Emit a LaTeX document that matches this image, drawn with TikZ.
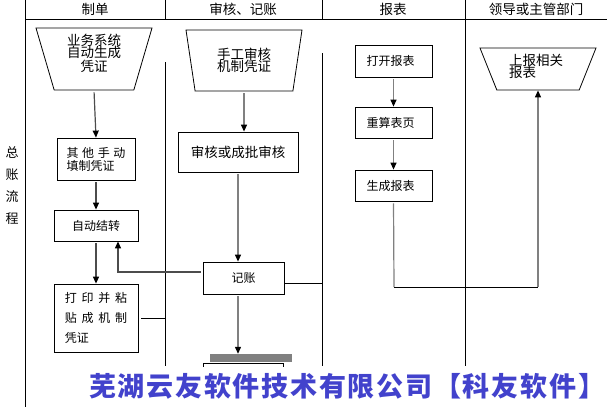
\documentclass[tikz,border=0pt]{standalone}
\usepackage{fontspec}
\setmainfont{Noto Sans CJK SC}
\usetikzlibrary{positioning,shapes.geometric,arrows.meta}
\definecolor{kyblue}{RGB}{66,66,204}

\begin{document}
\begin{tikzpicture}[x=1pt, y=-1pt,
						box/.style={rectangle, draw=black, line width=0.8pt, inner sep=2pt, font=\fontsize{12}{13}\selectfont},
						trap/.style={trapezium, draw=black, line width=0.8pt, shape border rotate=180, trapezium stretches body, inner sep=0pt, font=\fontsize{13.5}{12.5}\selectfont},
						head/.style={inner sep=0pt, font=\fontsize{13.5}{14}\selectfont},
						flow/.style={draw=gray, line width=1.2pt, -{Triangle[black, length=7pt, width=6pt]}},
						lane/.style={draw=black, line width=0.8pt}
					]
					\useasboundingbox (0,0) rectangle (607,407);
					\node[head] (h1) at (95,9) {制单};
					\node[head] (h2) at (243,9) {审核、记账};
					\node[head] (h3) at (393,9) {报表};
					\node[head] (h4) at (536,9) {领导或主管部门};
					\node[head, align=center, font=\fontsize{13}{22}\selectfont] (row) at (12,186) {总\\账\\流\\程};
					\coordinate (l0a) at (25,0);
					\coordinate (l0b) at (25,407);
					\coordinate (l12) at (165,62);
					\coordinate (l23) at (322,53);
					\coordinate (l34) at (465,0);
					\draw[lane] (l0a) -- (l0b);
					\draw[lane] (25,19) -- (607,19);
					\draw[lane] (165,0) -- (165,19);
					\draw[lane] (322,0) -- (322,19);
					\draw[lane] (l12) -- (165,366);
					\draw[lane] (l23) -- (322,366);
					\draw[lane] (l34) -- (465,366);
					\node[trap, align=center, trapezium angle=70, minimum width=116pt, minimum height=62pt] (auto) at (94,59) {业务系统\\自动生成\\凭证\\~};
					\node[trap, align=center, trapezium angle=70, minimum width=116pt, minimum height=61pt] (manual) at (244,60.5) {手工审核\\机制凭证};
					\node[trap, align=left, trapezium angle=61, minimum width=116pt, minimum height=42pt] (report) at (538,69) {上报相关\hspace*{4pt}\\报表\\[-6pt]~};
					\node[box, align=left, minimum width=78pt, minimum height=42pt] (other) at (96,159) {{\addfontfeature{LetterSpace=30}其他手动}\\填制凭证};
					\node[box, minimum width=84pt, minimum height=31pt] (carry) at (96,225.5) {自动结转};
					\node[box, align=left, minimum width=84pt, minimum height=68pt, font=\fontsize{12}{20}\selectfont] (print) at (96,318) {{\addfontfeature{LetterSpace=40}打印并粘}\\{\addfontfeature{LetterSpace=40}贴成机制}\\凭证\hspace*{38pt}};
					\node[box, minimum width=120pt, minimum height=40pt, font=\fontsize{13.5}{14}\selectfont] (audit) at (238,152) {审核或成批审核};
					\node[box, minimum width=81pt, minimum height=32pt] (post) at (243.5,278) {记账};
					\node[box, minimum width=80pt, minimum height=40pt, anchor=north] (next) at (243,363) {};
					\node[fill=gray, minimum width=82pt, minimum height=8pt, inner sep=0pt] (bar) at (251,358) {};
					\node[box, minimum width=77pt, minimum height=32pt] (open) at (393.5,61) {打开报表\hspace*{6pt}};
					\node[box, minimum width=77pt, minimum height=31pt] (recalc) at (393.5,122.5) {重算表页\hspace*{6pt}};
					\node[box, minimum width=77pt, minimum height=31pt] (make) at (393.5,185.5) {生成报表\hspace*{6pt}};
					\coordinate (turnA) at (394,287);
					\coordinate (turnB) at (538,287);
					\begin{scope}[shorten <=2pt]
					\draw[flow, draw=gray!60!black] (auto.south) -- (other.north);
					\draw[flow, draw=gray!60!black] (other.south) -- (carry.north);
					\draw[flow, draw=gray!60!black] (carry.south) -- (print.north);
					\draw[flow] (manual.south) -- (manual.south |- audit.north);
					\draw[flow] (audit.south) -- (audit.south |- post.north);
					\draw[flow] ([xshift=-5.5pt]post.south) -- ([xshift=-5.5pt]post.south |- bar.north);
					\draw[flow] (open.south) -- (recalc.north);
					\draw[flow] (recalc.south) -- (make.north);
					\draw[flow, draw=gray!60!black] ([yshift=6pt]post.west) -| ([xshift=22pt]carry.south);
					\end{scope}
					\draw[lane, shorten <=3pt] (print.east) -- (print.east -| l12);
					\draw[lane] ([yshift=-5pt]post.east) -- ([yshift=-5pt]post.east -| l23);
					\draw[draw=gray, line width=1.2pt, shorten <=2pt] (make.south) -- (turnA);
					\draw[lane] (turnA) -- (turnB);
					\draw[flow] (turnB) -- (turnB |- report.south);
					\fill[white] (30,367) rectangle (607,407);
					\node[inner sep=0pt, anchor=west, text=kyblue, font=\bfseries\fontsize{27}{27}\selectfont\addfontfeature{LetterSpace=6.5}] (company) at (89,386) {芜湖云友软件技术有限公司【科友软件】};
					\end{tikzpicture}
\end{document}
